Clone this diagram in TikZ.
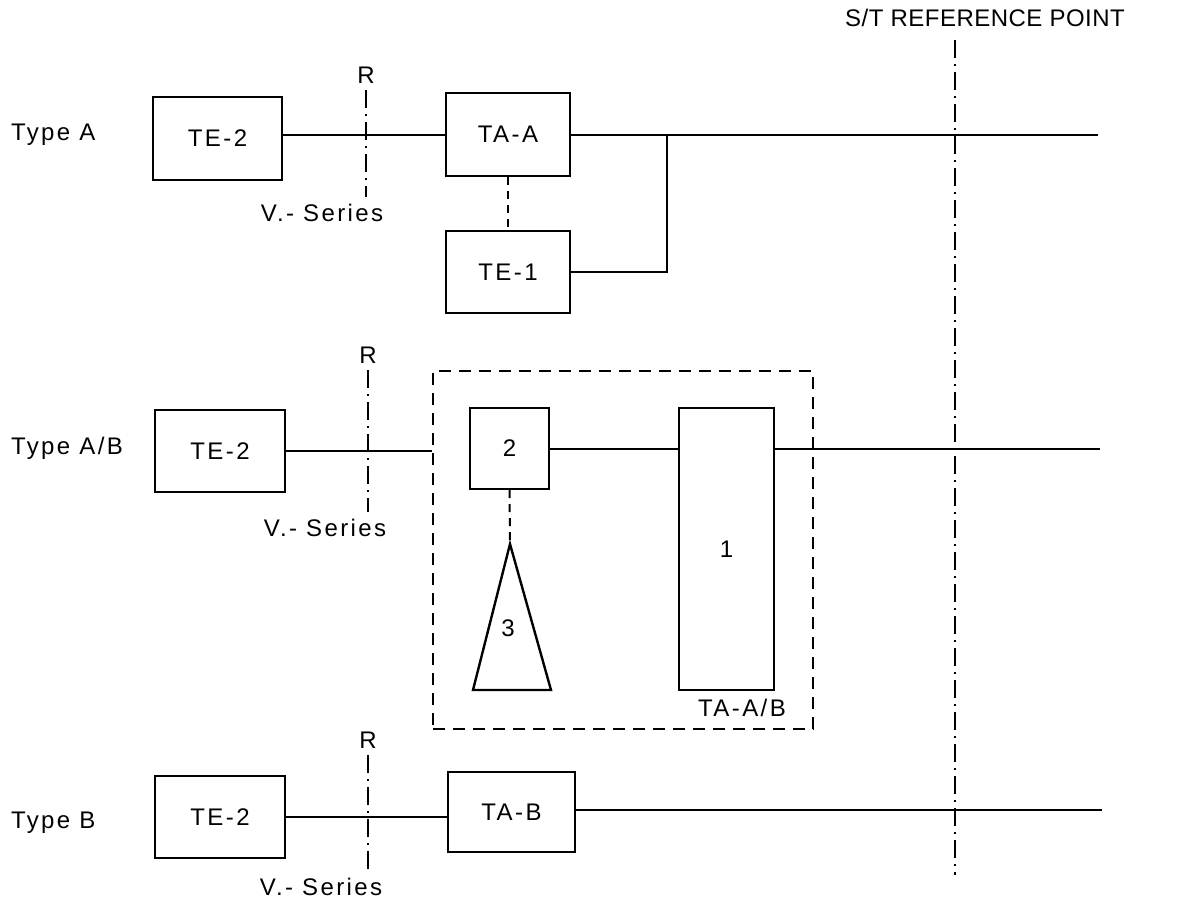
\documentclass[tikz,border=0pt]{standalone}
\usepackage{fontspec}
\setmainfont[LetterSpace=10]{Liberation Sans}
\newfontfamily\stfont[LetterSpace=2]{Liberation Sans}
\usetikzlibrary{calc}

\tikzset{
  unit/.style={draw,line width=1.2pt,inner sep=0pt},
  wire/.style={line width=1pt},
  refline/.style={line width=1pt,dash pattern=on 9pt off 3pt on 1pt off 3pt},
  link/.style={line width=1pt,dash pattern=on 4pt off 3pt},
  frame/.style={draw,line width=1pt,dash pattern=on 6pt off 4pt,inner sep=0pt},
}

\begin{document}
\begin{tikzpicture}[x=0.5pt,y=-0.5pt,font=\fontsize{12}{14}\selectfont]
\useasboundingbox (0,0) rectangle (1184,901);

% reference point
\node[font=\fontsize{12}{14}\stfont] (st) at (985,18) {S/T REFERENCE POINT};
\coordinate (stbot) at (955,875);
\draw[refline] (stbot |- 0,40) -- (stbot);

% type A
\node[anchor=west] (typa) at (4,135) {Type A};
\node[unit,minimum width=64.5pt,minimum height=41.5pt] (tea) at (217.5,138.5) {TE-2};
\node[unit,minimum width=62pt,minimum height=41.5pt] (taa) at (508,134.5) {TA-A};
\node[unit,minimum width=62pt,minimum height=41pt] (tea1) at (508,272) {TE-1};
\node (ra) at (366,75) {R};
\node (va) at (322,213) {V.- Series};
\coordinate (enda) at (1098,134.5);
\coordinate (ja) at (667,134.5);

\draw[wire] (taa.west -| tea.east) -- (taa.west);
\draw[refline] (ra.south) -- (ra.south |- va.north);
\draw[wire] (taa.east) -- (enda);
\draw[link] (taa.south) -- (tea1.north);
\draw[wire] (tea1.east) -| (ja);

% type A/B
\node[anchor=west] (typab) at (4,448) {Type A/B};
\node[unit,minimum width=65pt,minimum height=41pt] (teab) at (220,451) {TE-2};
\node[frame,minimum width=190pt,minimum height=179pt] (tab) at (623,550) {};
\node[unit,minimum width=39.5pt,minimum height=40.5pt] (b2) at (509.5,448.5) {2};
\node[unit,minimum width=47.5pt,minimum height=141pt] (b1) at (726.5,549) {1};
\node (tablbl) at (742,708) {TA-A/B};
\node (rab) at (368,355) {R};
\node (vab) at (325,528) {V.- Series};
\coordinate (endab) at (1100,448.5);

\coordinate (t3top) at (510,544);
\coordinate (t3l) at (473,690);
\coordinate (t3r) at (551,690);
\draw[line width=1.2pt] (t3top) -- (t3l) -- (t3r) -- cycle;
\node (n3) at (508,628) {3};

\draw[wire] (teab.east) -- (teab.east -| tab.west);
\draw[refline] (rab.south) -- (rab.south |- vab.north);
\draw[wire] (b2.east) -- (b2.east -| b1.west);
\draw[wire] (b2.east -| b1.east) -- (endab);
\draw[link] (b2.south) -- (t3top);
\draw[wire] ($(t3top)!0.57!(t3r)$) -- ($(t3top)!0.57!(t3r)$ -| b1.west);

% type B
\node[anchor=west] (typb) at (4,823) {Type B};
\node[unit,minimum width=65pt,minimum height=41pt] (teb) at (220,817) {TE-2};
\node[unit,minimum width=63.5pt,minimum height=40pt] (tab2) at (511.5,812) {TA-B};
\node (rb) at (368,740) {R};
\node (vb) at (321,887) {V.- Series};
\coordinate (endb) at (1102,810);

\draw[wire] (teb.east) -- (teb.east -| tab2.west);
\draw[refline] (rb.south) -- (rb.south |- vb.north);
\draw[wire] (tab2.east |- endb) -- (endb);
\end{tikzpicture}
\end{document}
